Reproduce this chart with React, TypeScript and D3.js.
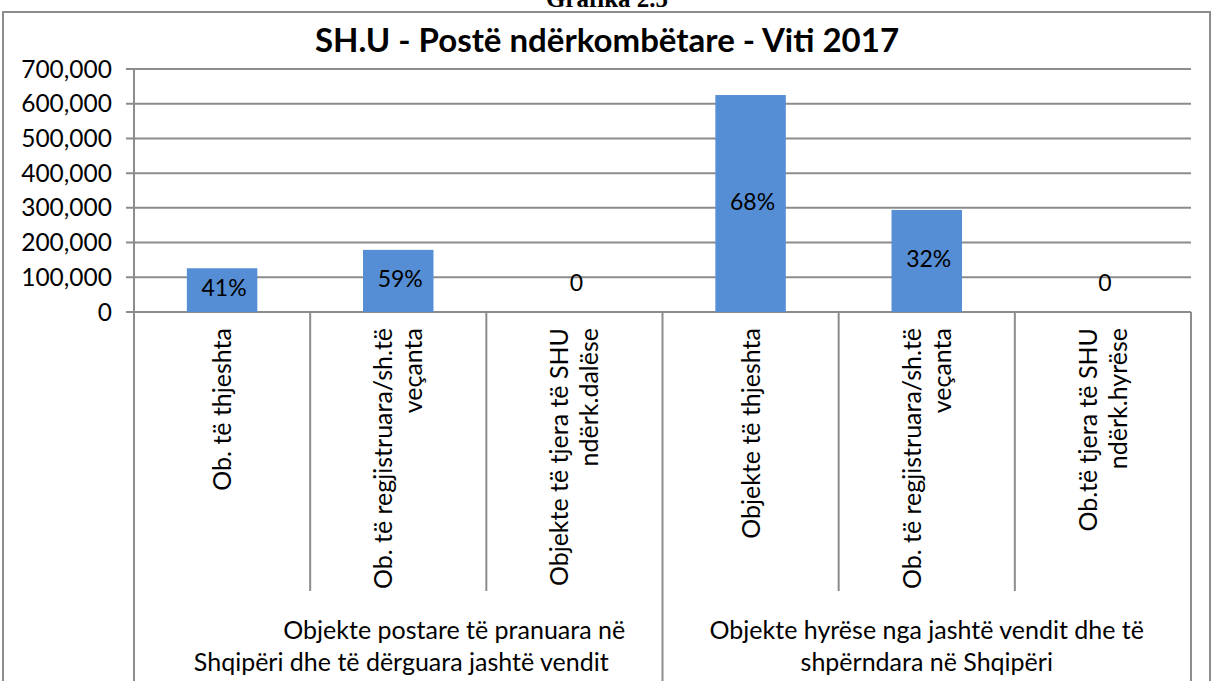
import React, { useEffect, useRef } from "react";
import * as d3 from "d3";

// values
const categories = [
  ["Ob. të thjeshta"],
  ["Ob. të regjistruara/sh.të", "veçanta"],
  ["Objekte të tjera të SHU", "ndërk.dalëse"],
  ["Objekte të thjeshta"],
  ["Ob. të regjistruara/sh.të", "veçanta"],
  ["Ob.të tjera të SHU", "ndërk.hyrëse"],
];
const values = [126000, 179000, 0, 625000, 294000, 0];
const percentLabels = ["41%", "59%", "0", "68%", "32%", "0"];
const groups = [
  ["Objekte postare të pranuara në", "Shqipëri dhe të dërguara jashtë vendit"],
  ["Objekte hyrëse nga jashtë vendit dhe të", "shpërndara në Shqipëri"],
];
const groupLineShift = [[56, 3], [0, 0]];
const yTicks = [0, 100000, 200000, 300000, 400000, 500000, 600000, 700000];

const W = 1214;
const H = 681;
const FONT = "Lato, 'Open Sans', sans-serif";
const GRID = "#8c8c8c";

export default function App() {
  const ref = useRef<SVGSVGElement>(null);

  useEffect(() => {
    const svg = d3.select(ref.current);
    svg.selectAll("*").remove();

    const left = 134;
    const right = 1191;
    const top = 69;
    const bottom = 312;

    const x = d3.scaleBand<number>()
      .domain(d3.range(values.length))
      .range([left, right])
      .paddingInner(0.6)
      .paddingOuter(0.3);
    const step = x.step();
    const catLeft = (i: number) => left + i * step;

    const y = d3.scaleLinear().domain([0, 700000]).range([bottom, top]);

    // header above the frame (cut off in the source too)
    svg.append("text")
      .attr("x", 607)
      .attr("y", 7)
      .attr("text-anchor", "middle")
      .style("font-family", "'Liberation Serif', 'Times New Roman', serif")
      .style("font-weight", "bold")
      .style("font-size", "25px")
      .text("Grafika 2.5");

    // chart frame
    svg.append("rect")
      .attr("x", 3)
      .attr("y", 12)
      .attr("width", 1207)
      .attr("height", 700)
      .attr("fill", "white")
      .attr("stroke", GRID)
      .attr("stroke-width", 2);

    // title
    svg.append("text")
      .attr("x", 607)
      .attr("y", 52)
      .attr("text-anchor", "middle")
      .style("font-family", FONT)
      .style("font-weight", "bold")
      .style("font-size", "33px")
      .text("SH.U - Postë ndërkombëtare - Viti 2017");

    // gridlines + y labels
    const g = svg.append("g");
    g.selectAll("line.grid")
      .data(yTicks)
      .enter()
      .append("line")
      .attr("x1", left - 8)
      .attr("x2", right)
      .attr("y1", d => y(d))
      .attr("y2", d => y(d))
      .attr("stroke", GRID)
      .attr("stroke-width", 2);

    g.selectAll("text.ytick")
      .data(yTicks)
      .enter()
      .append("text")
      .attr("x", 112)
      .attr("y", d => y(d))
      .attr("dy", "0.35em")
      .attr("text-anchor", "end")
      .style("font-family", FONT)
      .style("font-size", "24.5px")
      .text(d => d3.format(",")(d));

    // vertical lines of the category axis
    const seps = d3.range(values.length + 1);
    g.selectAll("line.sep")
      .data(seps)
      .enter()
      .append("line")
      .attr("x1", d => catLeft(d))
      .attr("x2", d => catLeft(d))
      .attr("y1", d => (d === 0 ? top : bottom))
      .attr("y2", d => (d % 3 === 0 ? H : 591))
      .attr("stroke", GRID)
      .attr("stroke-width", 2);

    // bars
    g.selectAll("rect.bar")
      .data(values)
      .enter()
      .append("rect")
      .attr("x", (_, i) => x(i)!)
      .attr("y", d => y(d))
      .attr("width", x.bandwidth())
      .attr("height", d => y(0) - y(d))
      .attr("fill", "#558ED5");

    // data labels
    g.selectAll("text.val")
      .data(values)
      .enter()
      .append("text")
      .attr("x", (_, i) => x(i)! + x.bandwidth() / 2 + 2)
      .attr("y", d => (d === 0 ? y(0) - 29 : (y(d) + y(0)) / 2 - 2))
      .attr("dy", "0.35em")
      .attr("text-anchor", "middle")
      .style("font-family", FONT)
      .style("font-size", "23px")
      .text((_, i) => percentLabels[i]);

    // rotated category labels
    categories.forEach((lines, i) => {
      const cx = x(i)! + x.bandwidth() / 2;
      const lh = 30;
      lines.forEach((line, j) => {
        const lx = cx + (j - (lines.length - 1) / 2) * lh;
        g.append("text")
          .attr("transform", `translate(${lx + 9},328) rotate(-90)`)
          .attr("text-anchor", "end")
          .style("font-family", FONT)
          .style("font-size", "25px")
          .text(line);
      });
    });

    // group labels
    groups.forEach((lines, gi) => {
      const cx = (catLeft(gi * 3) + catLeft(gi * 3 + 3)) / 2;
      lines.forEach((line, j) => {
        g.append("text")
          .attr("x", cx + groupLineShift[gi][j])
          .attr("y", 639 + j * 32)
          .attr("text-anchor", "middle")
          .style("font-family", FONT)
          .style("font-size", "25px")
          .text(line);
      });
    });
  }, []);

  return (
    <div style={{ position: "absolute", left: 0, top: 0 }}>
      <svg ref={ref} width={W} height={H} style={{ display: "block" }} />
    </div>
  );
}
